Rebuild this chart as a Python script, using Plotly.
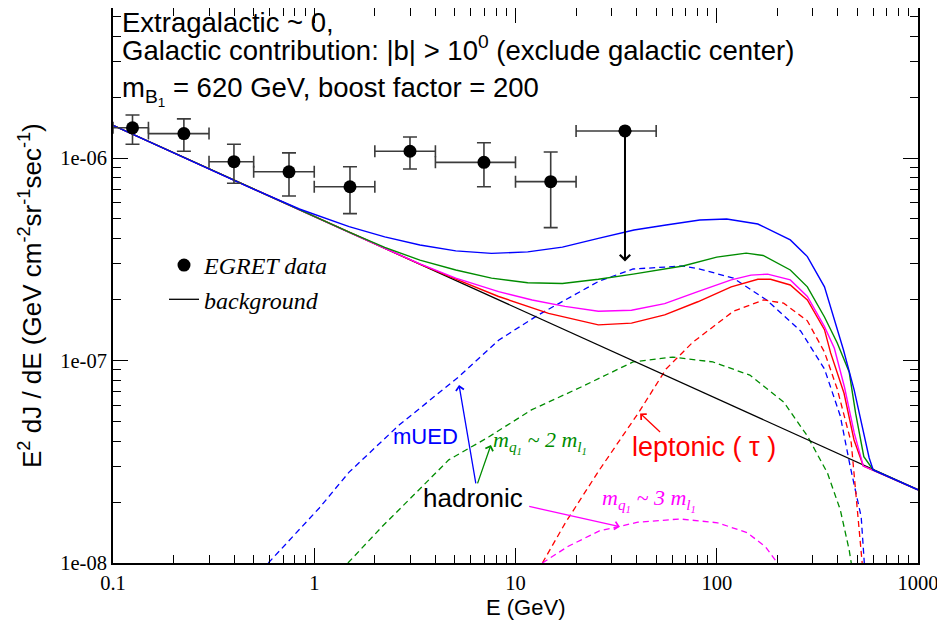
import math
import plotly.graph_objects as go

# ---------------- data ----------------
# EGRET data points
egret_E = [0.125, 0.225, 0.399, 0.749, 1.505, 2.99, 6.97, 14.96, 35.0]
egret_F = [1.41e-6, 1.32e-6, 9.59e-7, 8.55e-7, 7.21e-7, 1.08e-6, 9.52e-7, 7.64e-7, 1.36e-6]
egret_F_hi = [1.63e-6, 1.56e-6, 1.17e-6, 1.06e-6, 9.06e-7, 1.27e-6, 1.19e-6, 1.07e-6, None]
egret_F_lo = [1.17e-6, 1.08e-6, 7.50e-7, 6.49e-7, 5.31e-7, 8.83e-7, 7.21e-7, 4.53e-7, None]
egret_bin_lo = [0.1, 0.15, 0.3, 0.5, 1.0, 2.0, 4.0, 10.0, 20.0]
egret_bin_hi = [0.15, 0.3, 0.5, 1.0, 2.0, 4.0, 10.0, 20.0, 50.0]
upper_limit_to = 3.08e-7   # arrow of the last (upper-limit) bin

# background (power law)
bg_E = [0.1, 1000]
bg_F = [1.45e-6, 2.30e-8]

# totals (solid)
blue_tot_E = [0.1, 0.477, 0.843, 1.49, 2.24, 3.35, 5.05, 7.60, 11.5, 17.1, 25.8, 38.8, 56.0,
              82.4, 112, 160, 232, 282, 343, 426, 482, 535, 572, 599, 1000]
blue_tot_F = [1.45e-6, 7.16e-7, 5.60e-7, 4.58e-7, 4.08e-7, 3.72e-7, 3.48e-7, 3.38e-7, 3.44e-7,
              3.63e-7, 4.01e-7, 4.41e-7, 4.67e-7, 4.94e-7, 5.00e-7, 4.72e-7, 3.94e-7, 3.26e-7,
              2.31e-7, 1.13e-7, 7.14e-8, 4.54e-8, 3.30e-8, 2.88e-8, 2.30e-8]

green_tot_E = [0.1, 0.477, 0.843, 1.49, 2.24, 3.35, 5.05, 7.60, 11.5, 17.1, 25.8, 38.4, 67.9,
               100, 140, 170, 232, 282, 343, 397, 455, 490, 538, 599, 1000]
green_tot_F = [1.45e-6, 7.16e-7, 5.53e-7, 4.30e-7, 3.62e-7, 3.13e-7, 2.80e-7, 2.55e-7, 2.42e-7,
               2.40e-7, 2.52e-7, 2.67e-7, 2.93e-7, 3.24e-7, 3.39e-7, 3.30e-7, 2.80e-7, 2.31e-7,
               1.64e-7, 1.22e-7, 8.77e-8, 5.48e-8, 3.35e-8, 2.88e-8, 2.30e-8]

magenta_tot_E = [0.1, 0.843, 1.49, 3.35, 5.05, 8.24, 12.1, 17.6, 25.8, 37.7, 55.1, 80.5, 118,
                 148, 179, 232, 282, 343, 384, 431, 482, 535, 1000]
magenta_tot_F = [1.45e-6, 5.53e-7, 4.29e-7, 3.00e-7, 2.55e-7, 2.19e-7, 1.99e-7, 1.85e-7, 1.75e-7,
                 1.77e-7, 1.91e-7, 2.19e-7, 2.50e-7, 2.64e-7, 2.67e-7, 2.50e-7, 2.07e-7, 1.47e-7,
                 1.15e-7, 7.40e-8, 4.39e-8, 3.01e-8, 2.30e-8]

red_tot_E = [0.1, 0.843, 1.49, 3.35, 5.05, 8.24, 14.6, 25.8, 37.7, 55.1, 80.5, 118, 160, 185,
             232, 282, 343, 368, 429, 481, 535, 1000]
red_tot_F = [1.45e-6, 5.53e-7, 4.28e-7, 2.99e-7, 2.52e-7, 2.07e-7, 1.71e-7, 1.50e-7, 1.53e-7,
             1.68e-7, 1.95e-7, 2.31e-7, 2.52e-7, 2.52e-7, 2.36e-7, 1.99e-7, 1.42e-7, 1.09e-7,
             6.89e-8, 4.05e-8, 3.01e-8, 2.30e-8]

# signal components (dashed)
blue_sig_E = [0.591, 0.752, 1.06, 1.49, 2.64, 5.22, 8.24, 13.0, 26.1, 38.4, 67.9, 82.4, 121,
              177, 261, 343, 411, 460, 522, 541]
blue_sig_F = [1e-8, 1.30e-8, 1.87e-8, 2.81e-8, 4.80e-8, 8.30e-8, 1.26e-7, 1.68e-7, 2.47e-7,
              2.83e-7, 2.93e-7, 2.83e-7, 2.55e-7, 1.99e-7, 1.40e-7, 9.08e-8, 5.32e-8, 3.01e-8,
              1.69e-8, 1e-8]

green_sig_E = [1.47, 2.17, 3.20, 4.66, 7.35, 12.0, 21.2, 38.4, 60.5, 95.5, 146, 215, 282, 355,
               411, 455, 466]
green_sig_F = [1e-8, 1.51e-8, 2.22e-8, 3.23e-8, 4.19e-8, 5.70e-8, 7.40e-8, 9.84e-8, 1.04e-7,
               9.84e-8, 8.47e-8, 6.24e-8, 4.24e-8, 2.78e-8, 1.83e-8, 1.16e-8, 1e-8]

red_sig_E = [13.6, 17.7, 26.1, 41.1, 56.0, 76.0, 121, 171, 215, 282, 343, 397, 466, 499, 528]
red_sig_F = [1e-8, 1.58e-8, 2.88e-8, 5.57e-8, 9.08e-8, 1.23e-7, 1.75e-7, 1.99e-7, 1.92e-7,
             1.57e-7, 1.10e-7, 7.23e-8, 3.92e-8, 1.77e-8, 1e-8]

magenta_sig_E = [13.6, 18.3, 26.1, 40.6, 65.6, 101, 142, 175, 200]
magenta_sig_F = [1e-8, 1.21e-8, 1.44e-8, 1.59e-8, 1.65e-8, 1.58e-8, 1.41e-8, 1.20e-8, 1e-8]

x_tickvals = [0.1, 1, 10, 100, 1000]
x_ticktext = ["0.1", "1", "10", "100", "1000"]
y_tickvals = [1e-8, 1e-7, 1e-6]
y_ticktext = ["1e-08", "1e-07", "1e-06"]

# ---------------- styling ----------------
BLUE = "#0000ff"
GREEN = "#008c00"
MAGENTA = "#ff00ff"
RED = "#ff0000"
SANS = "Liberation Sans, Arial, sans-serif"
SERIF = "Liberation Serif, Times New Roman, serif"

# page has an 8px body margin: figure occupies page x 8..945, y 8..625
OFF = 8
W, H = 937, 617
PLOT_L, PLOT_R, PLOT_B = 113, 918, 563          # page pixels of plot frame
PLOT_T = OFF
ML = PLOT_L - OFF
MR = W - (PLOT_R - OFF)
MT = 0
MB = H - (PLOT_B - OFF)
PW = PLOT_R - PLOT_L
PH = PLOT_B - PLOT_T
Y_TOP = -8 + PH / 202.5   # 202.5 px per decade in the reference


def paper(px, py):
    """page pixel -> paper coordinate"""
    return (px - PLOT_L) / PW, (PLOT_B - py) / PH


fig = go.Figure()

dash = "6px,4px"
for E, F, c in [(blue_sig_E, blue_sig_F, BLUE), (green_sig_E, green_sig_F, GREEN),
                (red_sig_E, red_sig_F, RED), (magenta_sig_E, magenta_sig_F, MAGENTA)]:
    fig.add_trace(go.Scatter(x=E, y=F, mode="lines", showlegend=False,
                             line=dict(color=c, width=1.3, dash=dash)))

fig.add_trace(go.Scatter(x=bg_E, y=bg_F, mode="lines", name="<i>background</i>",
                         legendrank=2, line=dict(color="black", width=1.3)))

for E, F, c in [(red_tot_E, red_tot_F, RED), (magenta_tot_E, magenta_tot_F, MAGENTA),
                (green_tot_E, green_tot_F, GREEN), (blue_tot_E, blue_tot_F, BLUE)]:
    fig.add_trace(go.Scatter(x=E, y=F, mode="lines", showlegend=False,
                             line=dict(color=c, width=1.4)))

err_plus = [(h - f) if h is not None else None for h, f in zip(egret_F_hi, egret_F)]
err_minus = [(f - l) if l is not None else None for l, f in zip(egret_F_lo, egret_F)]
ex_plus = [h - e for h, e in zip(egret_bin_hi, egret_E)]
ex_minus = [e - l for l, e in zip(egret_bin_lo, egret_E)]

fig.add_trace(go.Scatter(
    x=egret_E, y=egret_F, mode="markers", name="<i>EGRET data</i>", legendrank=1,
    marker=dict(color="black", size=13, symbol="circle"),
    error_y=dict(type="data", symmetric=False, array=err_plus, arrayminus=err_minus,
                 color="#3c3c3c", thickness=1.6, width=7),
    error_x=dict(type="data", symmetric=False, array=ex_plus, arrayminus=ex_minus,
                 color="#3c3c3c", thickness=1.6, width=6),
))

ann = []


def text(px, py, s, color="black", size=22, family=SANS, xanchor="left", angle=0):
    x, y = paper(px, py)
    ann.append(dict(x=x, y=y, xref="paper", yref="paper", text=s, showarrow=False,
                    xanchor=xanchor, yanchor="middle", textangle=angle,
                    font=dict(family=family, size=size, color=color)))


text(120, 23, "Extragalactic ~ 0,", size=27.5)
text(120, 48, "Galactic contribution: |b| > 10<sup>0</sup> (exclude galactic center)", size=27.5)
text(120, 91, "m<sub>B<sub>1</sub></sub> = 620 GeV, boost factor = 200", size=27.5)

text(425, 436, "mUED", BLUE, 22, xanchor="center")
text(473, 498, "hadronic", "black", 26, xanchor="center")
text(491, 442, "<i>m<sub>q<sub>1</sub></sub> ~ 2 m<sub>l<sub>1</sub></sub></i>", GREEN, 22, SERIF)
text(630, 447, "leptonic ( τ )", RED, 27)
text(600, 500, "<i>m<sub>q<sub>1</sub></sub> ~ 3 m<sub>l<sub>1</sub></sub></i>", MAGENTA, 22, SERIF)

# axis titles
text(525, 607, "E (GeV)", "black", 22, xanchor="center")
text(30, 296, "E<sup>2</sup> dJ / dE (GeV cm<sup>-2</sup>sr<sup>-1</sup>sec<sup>-1</sup>)",
     "black", 26, xanchor="center", angle=-90)


def arrow(x_head, y_head, x_tail, y_tail, color, width=1.3, size=1.2):
    ann.append(dict(x=math.log10(x_head), y=math.log10(y_head),
                    ax=math.log10(x_tail), ay=math.log10(y_tail),
                    xref="x", yref="y", axref="x", ayref="y", text="",
                    showarrow=True, arrowhead=4, arrowsize=size, arrowwidth=width,
                    arrowcolor=color, standoff=0, startstandoff=0))


# pointer arrows (positions in data units)
arrow(5.24, 7.57e-8, 6.37, 2.43e-8, BLUE)
arrow(7.55, 3.83e-8, 6.44, 2.43e-8, GREEN)
arrow(33.0, 1.51e-8, 11.5, 1.91e-8, MAGENTA)
arrow(41.6, 5.48e-8, 53.2, 4.37e-8, RED)
# upper limit arrow of last EGRET bin
arrow(egret_E[-1], upper_limit_to, egret_E[-1], egret_F[-1], "black", width=2, size=1.0)

fig.update_layout(annotations=ann)

axis_common = dict(showgrid=False, zeroline=False, showline=True, linecolor="black",
                   linewidth=2, mirror="ticks", ticks="inside", ticklen=15, tickwidth=1.3,
                   tickcolor="black", tickfont=dict(family=SERIF, size=20.5, color="black"),
                   automargin=False, ticklabeloverflow="allow")

minor_x = [m * 10 ** d for d in range(-1, 3) for m in range(2, 10)]
minor_y = [m * 10 ** d for d in range(-8, -5) for m in range(2, 10)]

fig.update_xaxes(type="log", range=[-1, 3], tickmode="array", tickvals=x_tickvals,
                 ticktext=x_ticktext,
                 minor=dict(ticks="inside", ticklen=8, tickwidth=1.2, tickcolor="black",
                            tickmode="array", tickvals=minor_x, showgrid=False),
                 **axis_common)
fig.update_yaxes(type="log", range=[-8, Y_TOP], tickmode="array", tickvals=y_tickvals,
                 ticktext=y_ticktext,
                 minor=dict(ticks="inside", ticklen=8, tickwidth=1.2, tickcolor="black",
                            tickmode="array", tickvals=minor_y, showgrid=False),
                 **axis_common)

lx, ly = paper(164, 243)
fig.update_layout(
    width=W, height=H,
    margin=dict(l=ML, r=MR, t=MT, b=MB, pad=0),
    plot_bgcolor="white", paper_bgcolor="white",
    showlegend=True,
    legend=dict(x=lx, y=ly, xanchor="left", yanchor="top", bgcolor="rgba(0,0,0,0)",
                font=dict(family=SERIF, size=24, color="black"), tracegroupgap=0,
                itemwidth=30),
)

fig.write_html("out.html")
